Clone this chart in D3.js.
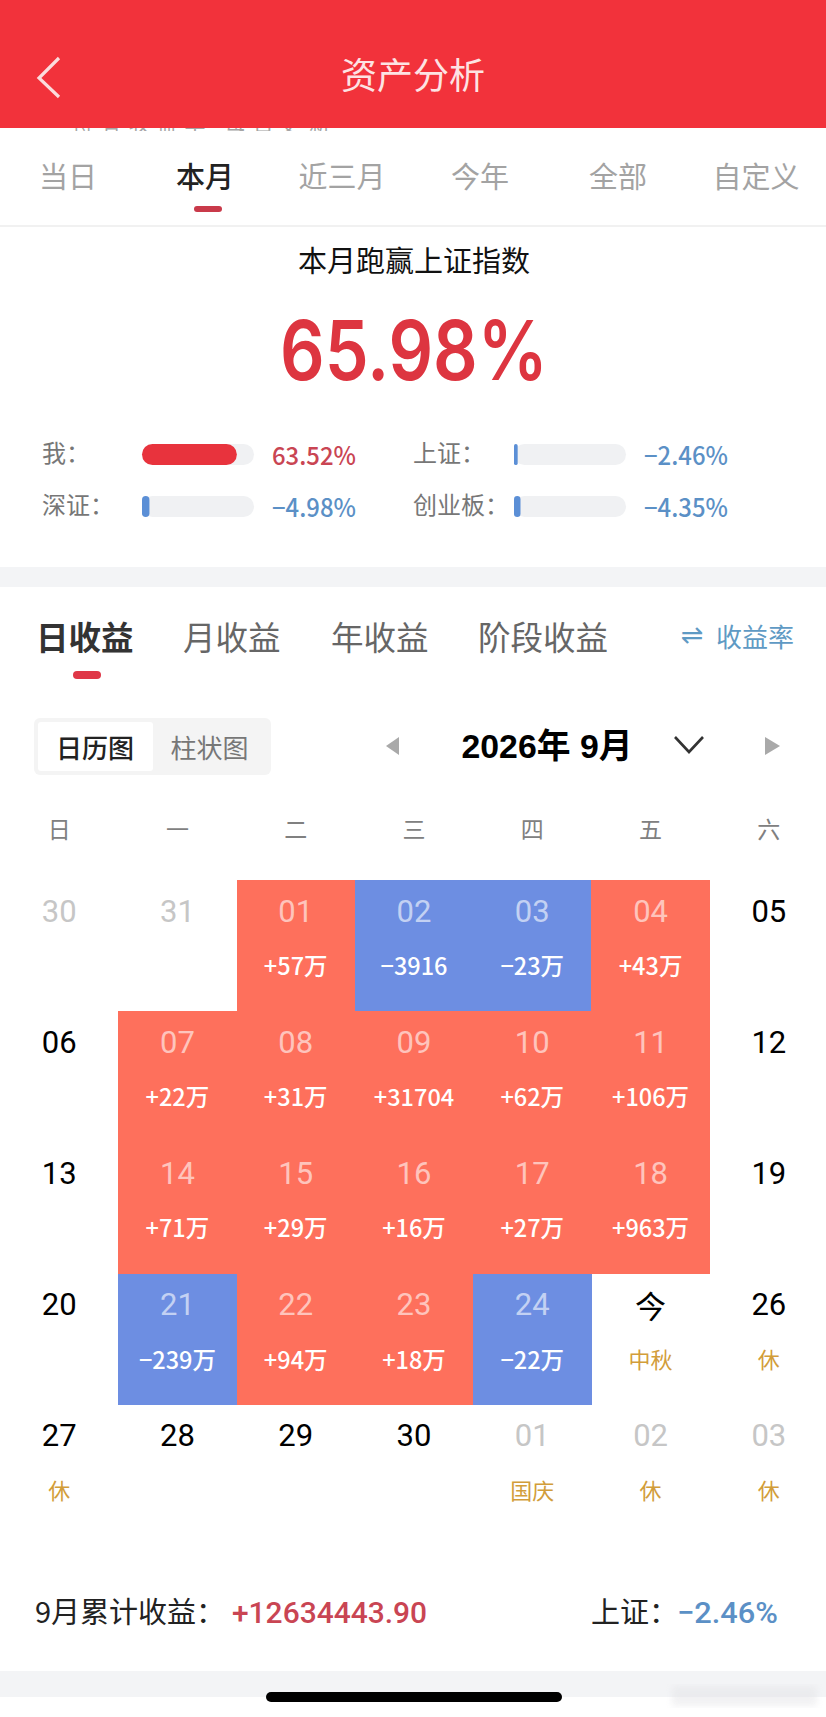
<!DOCTYPE html>
<html><head><meta charset="utf-8">
<script src="https://cdn.jsdelivr.net/npm/d3@7"></script>
<style>html,body{margin:0;padding:0;background:#fff}svg{display:block}text{font-family:"Noto Sans CJK SC","Noto Sans",sans-serif}</style>
</head><body><div id="c"></div>
<script>
const rangeTabs=["当日","本月","近三月","今年","全部","自定义"];
const rangeTabCenters=[68,205,342,480,618,756];
const compareNames=["我：","上证：","深证：","创业板："];
const compareValues=[63.52,-2.46,-4.98,-4.35];
const gainTabs=["日收益","月收益","年收益","阶段收益"];
const weekdays=["日","一","二","三","四","五","六"];
const dayLabels=["30","31","01","02","03","04","05","06","07","08","09","10","11","12","13","14","15","16","17","18","19","20","21","22","23","24","今","26","27","28","29","30","01","02","03"];
const dayGains=["","","+57万","−3916","−23万","+43万","","","+22万","+31万","+31704","+62万","+106万","","","+71万","+29万","+16万","+27万","+963万","","","−239万","+94万","+18万","−22万","","","","","","","","",""];
const dayNotes=["","","","","","","","","","","","","","","","","","","","","","","","","","","中秋","休","休","","","","国庆","休","休"];
const outsideMonth=[0,1,32,33,34];
const W=826,H=1717;
const RED="#f2323b",CELL_RED="#fe705c",CELL_BLUE="#6d8ee2",UP="#c94553",DOWN="#5b90c6",GOLD="#d29d3a";
const svg=d3.select("#c").append("svg").attr("width",W).attr("height",H).attr("viewBox",[0,0,W,H]);
function T(x,y,s,size,fill,opt={}){const t=svg.append("text").attr("x",x).attr("y",opt.family?y:y-2).attr("font-size",size).attr("fill",fill).attr("text-anchor",opt.anchor||"middle").attr("dominant-baseline","central").attr("font-weight",opt.weight||400).text(s);
 if(opt.family)t.style("font-family",opt.family);
 if(opt.len)t.attr("textLength",opt.len).attr("lengthAdjust","spacingAndGlyphs");
 return t;}
svg.append("rect").attr("width",W).attr("height",H).attr("fill","#fff");
const defs=svg.append("defs");
defs.append("clipPath").attr("id","sliver").append("rect").attr("x",0).attr("y",128).attr("width",W).attr("height",3);
defs.append("filter").attr("id","soft").append("feGaussianBlur").attr("stdDeviation",3);
T(72,124,"持有收益率 每日更新",21,"#a5a5a5",{anchor:"start"}).attr("clip-path","url(#sliver)").attr("textLength",258);
svg.append("rect").attr("width",W).attr("height",128).attr("fill",RED);
T(413,75,"资产分析",36,"#fde3e3");
svg.append("path").attr("d",d3.line()([[59,58],[39,78],[59,97]])).attr("fill","none").attr("stroke","#fbdcdc").attr("stroke-width",3.2);
// range tabs
svg.selectAll(".rt").data(rangeTabs).join("text").attr("class","rt").attr("x",(d,i)=>rangeTabCenters[i]).attr("y",174.5).attr("text-anchor","middle").attr("dominant-baseline","central").attr("font-size",29).attr("font-weight",(d,i)=>i==1?500:400).attr("fill",(d,i)=>i==1?"#222":"#a3a3a3").text(d=>d);
svg.append("rect").attr("x",194).attr("y",206).attr("width",28).attr("height",6).attr("rx",3).attr("fill","#c93a4a");
svg.append("rect").attr("y",225).attr("width",W).attr("height",2).attr("fill","#f1f1f1");
T(414,261,"本月跑赢上证指数",29,"#111");
T(414,350.5,"65.98%",82,"#dd3540",{weight:600,family:"Inter,Lato,sans-serif",len:268});
// compare bars
const widthScale=d3.scaleLinear().domain([0,75]).range([0,112]);
const colX=[42,413],trackX=[142,514],valX=[272,644],rowY=[454.5,506.5];
compareNames.forEach((n,i)=>{const c=i%2,r=i>>1,v=compareValues[i],col=v>=0?"#e8333d":"#5b8fd6";
 T(colX[c],rowY[r]-1,n,24,"#777",{anchor:"start"});
 svg.append("rect").attr("x",trackX[c]).attr("y",rowY[r]-10.5).attr("width",widthScale(75)).attr("height",21).attr("rx",10.5).attr("fill","#f0f1f3");
 svg.append("rect").attr("x",trackX[c]).attr("y",rowY[r]-10.5).attr("width",widthScale(Math.abs(v))).attr("height",21).attr("rx",Math.min(10.5,widthScale(Math.abs(v))/2)).attr("fill",col);
 T(valX[c],rowY[r]+1,(v>=0?"":"−")+Math.abs(v).toFixed(2)+"%",25,v>=0?UP:DOWN,{anchor:"start",len:84,weight:500});
});
svg.append("rect").attr("y",567).attr("width",W).attr("height",20).attr("fill","#f3f4f6");
// gain tabs
const gainX=[36,183,331,478];
gainTabs.forEach((d,i)=>T(gainX[i],637,d,32.5,i==0?"#333":"#666",{anchor:"start",weight:i==0?700:400}));
svg.append("rect").attr("x",73).attr("y",671).attr("width",28).attr("height",8).attr("rx",4).attr("fill","#df3747");
T(692,634,"⇌",27,"#5f9ac4",{family:"DejaVu Sans"});
T(755,637,"收益率",26,"#5f9ac4");
// toggle
svg.append("rect").attr("x",34).attr("y",718).attr("width",237).attr("height",57).attr("rx",6).attr("fill","#f4f4f4");
svg.append("rect").attr("x",38).attr("y",722).attr("width",115).attr("height",49).attr("rx",3).attr("fill","#fff");
T(95,748,"日历图",26,"#222",{weight:500});
T(209.5,748,"柱状图",26,"#777");
svg.append("path").attr("d","M399 737L386 746L399 755Z").attr("fill","#a9a9a9");
svg.append("path").attr("d","M765 737L780 746L765 755Z").attr("fill","#a9a9a9");
T(547,746,"2026年 9月",34,"#000",{weight:700,family:'"Liberation Sans","Noto Sans CJK SC"',len:171});
svg.append("path").attr("d",d3.line()([[675,737],[689,752],[703,737]])).attr("fill","none").attr("stroke","#333").attr("stroke-width",2.6);
// calendar
const x=d3.scaleBand().domain(d3.range(7)).range([0,828]);
const y=d3.scaleBand().domain(d3.range(5)).range([880,1536]);
const cells=dayLabels.map((d,i)=>({label:d,gain:dayGains[i],note:dayNotes[i],col:i%7,row:Math.floor(i/7),idx:i}));
svg.selectAll(".wd").data(weekdays).join("text").attr("class","wd").attr("x",(d,i)=>x(i)+x.bandwidth()/2).attr("y",828).attr("text-anchor","middle").attr("dominant-baseline","central").attr("font-size",23).attr("fill","#808080").text(d=>d);
svg.selectAll(".cell").data(cells.filter(d=>d.gain)).join("rect").attr("class","cell").attr("shape-rendering","crispEdges").attr("x",d=>x(d.col)).attr("y",d=>y(d.row)).attr("width",x.bandwidth()+.6).attr("height",y.bandwidth()+.6).attr("fill",d=>d.gain[0]=="+"?CELL_RED:CELL_BLUE);
const digitFont='Roboto,"Noto Sans CJK SC"';
svg.selectAll(".dl").data(cells).join("text").attr("class","dl").attr("x",d=>x(d.col)+x.bandwidth()/2).attr("y",d=>y(d.row)+31).attr("text-anchor","middle").attr("dominant-baseline","central").attr("font-size",31).style("font-family",d=>d.label=="今"?null:digitFont)
 .attr("fill",d=>d.gain?"rgba(255,255,255,.6)":outsideMonth.includes(d.idx)?"#c6c6c6":"#000").text(d=>d.label);
svg.selectAll(".dg").data(cells.filter(d=>d.gain)).join("text").attr("class","dg").attr("x",d=>x(d.col)+x.bandwidth()/2).attr("y",d=>y(d.row)+85).attr("text-anchor","middle").attr("dominant-baseline","central").attr("font-size",23.5).attr("font-weight",500).attr("fill","#fff").text(d=>d.gain);
svg.selectAll(".dn").data(cells.filter(d=>d.note)).join("text").attr("class","dn").attr("x",d=>x(d.col)+x.bandwidth()/2).attr("y",d=>y(d.row)+84).attr("text-anchor","middle").attr("dominant-baseline","central").attr("font-size",22).attr("fill",GOLD).text(d=>d.note);
// footer
T(35,1612,"9月累计收益：",29,"#222",{anchor:"start"});
T(232,1612,"+12634443.90",30,UP,{anchor:"start",len:195,weight:500,family:'Roboto'});
T(591,1612,"上证：",29,"#222",{anchor:"start"});
T(677,1612,"−2.46%",30,DOWN,{anchor:"start",len:101,weight:500,family:'Roboto'});
svg.append("rect").attr("y",1671).attr("width",W).attr("height",26).attr("fill","#f3f4f6");
svg.append("rect").attr("x",672).attr("y",1686).attr("width",145).attr("height",20).attr("fill","#e2e2e5").attr("opacity",.45).attr("filter","url(#soft)");
svg.append("rect").attr("x",266).attr("y",1692).attr("width",296).attr("height",10).attr("rx",5).attr("fill","#000");
</script></body></html>
